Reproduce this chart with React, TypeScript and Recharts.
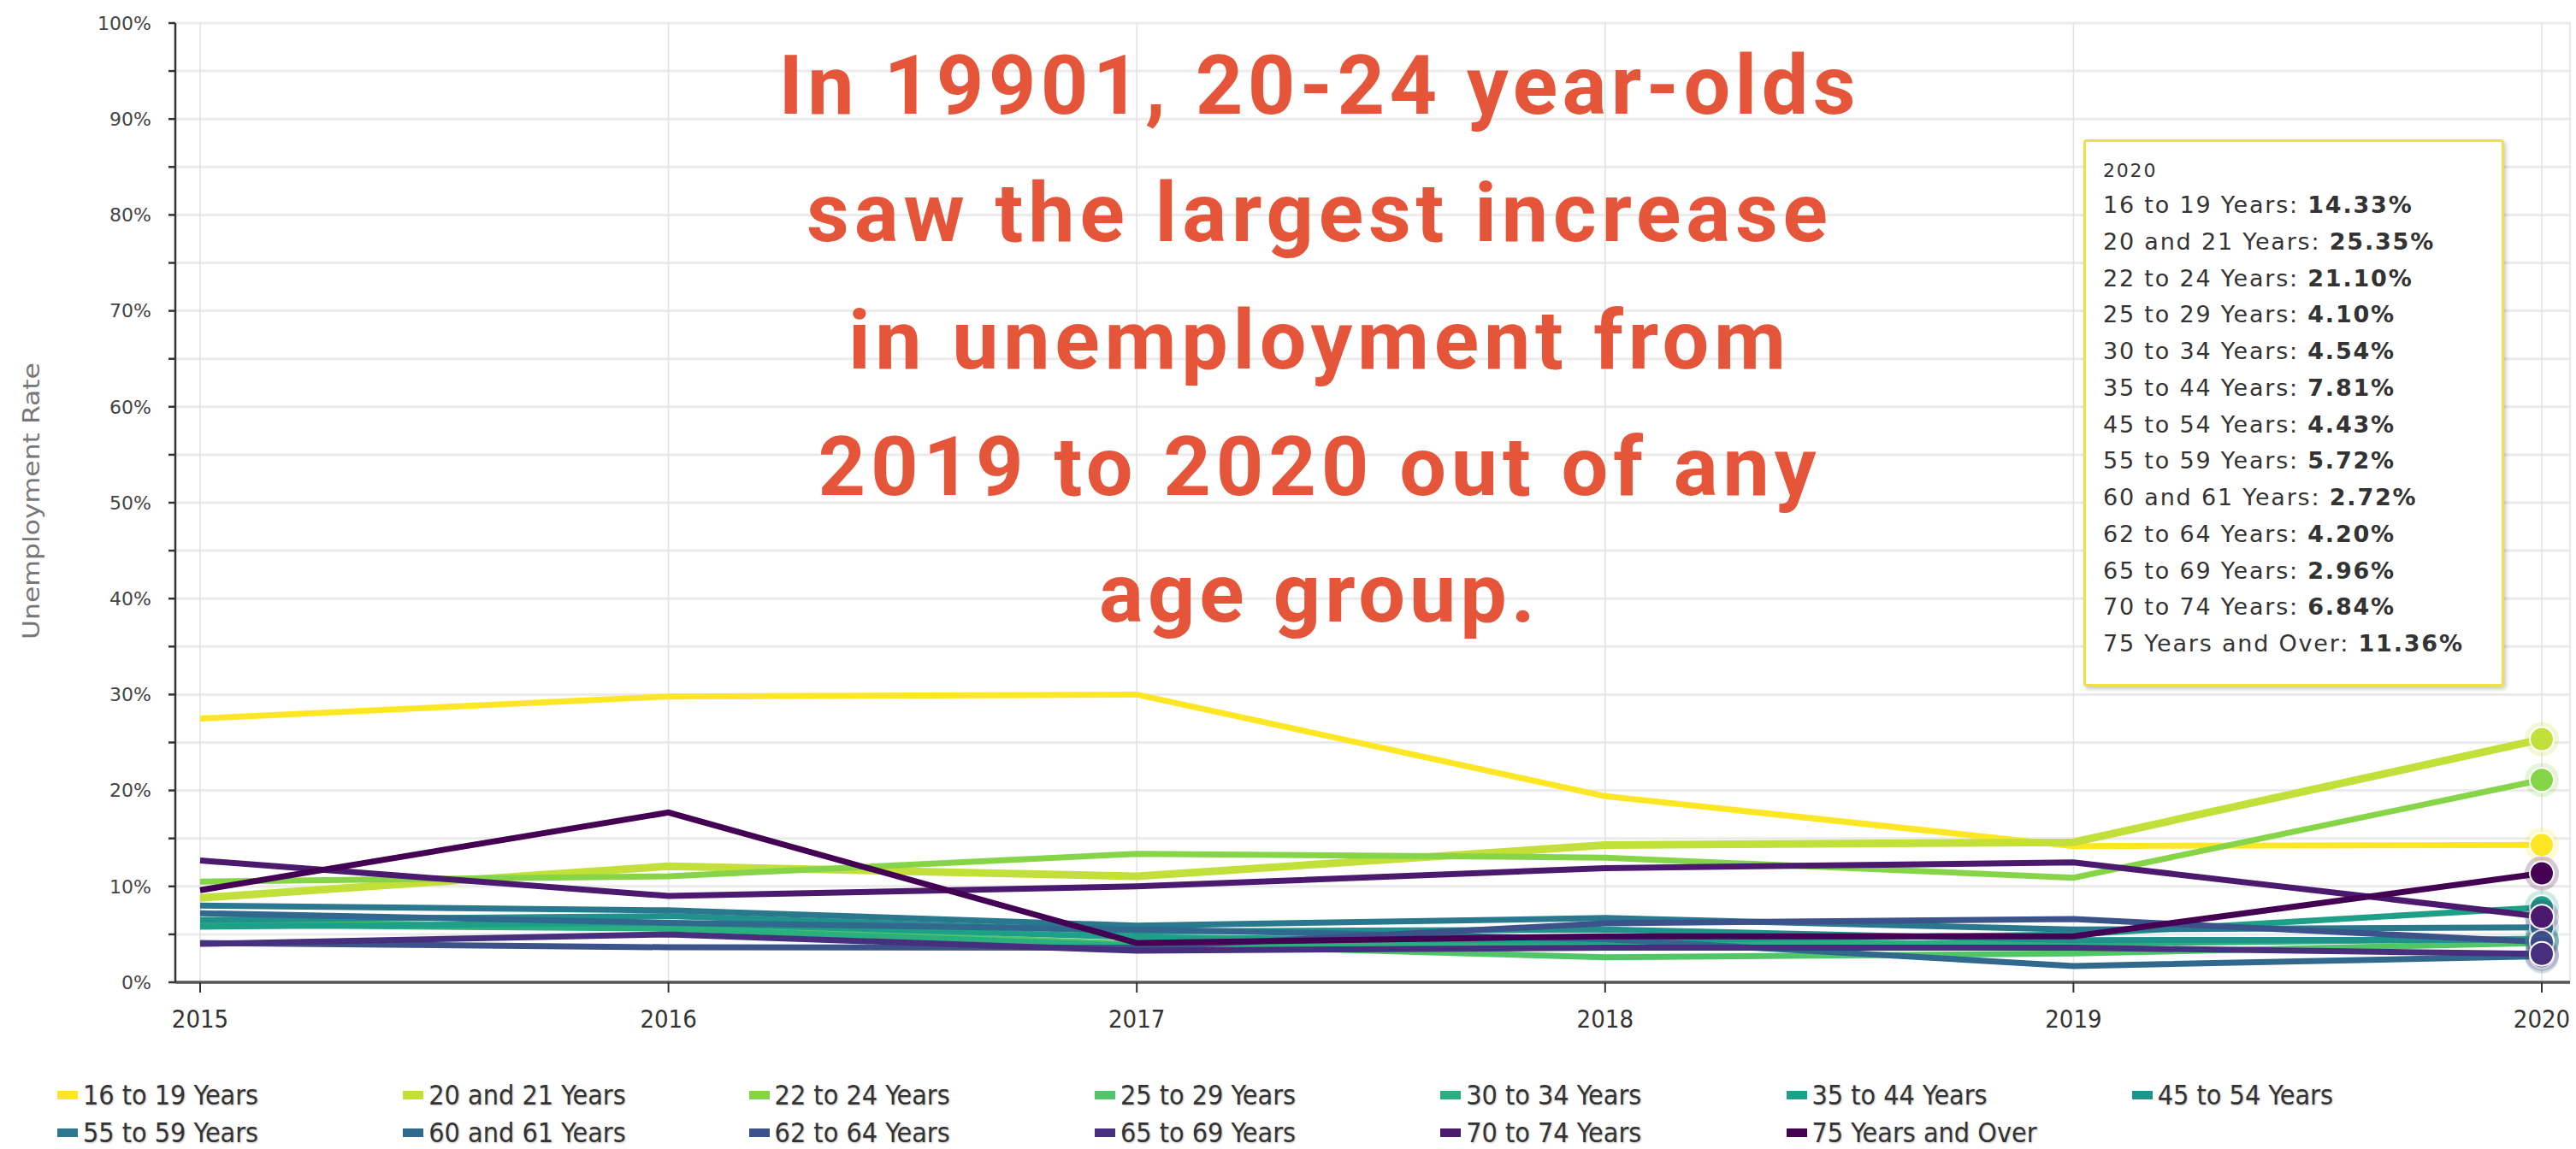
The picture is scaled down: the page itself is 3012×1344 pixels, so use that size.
import React from 'react';
import { LineChart, Line, XAxis, YAxis, CartesianGrid, Tooltip, Legend } from 'recharts';

const YEARS = [2015, 2016, 2017, 2018, 2019, 2020];

const SERIES_NAMES = [
  '16 to 19 Years',
  '20 and 21 Years',
  '22 to 24 Years',
  '25 to 29 Years',
  '30 to 34 Years',
  '35 to 44 Years',
  '45 to 54 Years',
  '55 to 59 Years',
  '60 and 61 Years',
  '62 to 64 Years',
  '65 to 69 Years',
  '70 to 74 Years',
  '75 Years and Over',
];

const SERIES_COLORS = [
  '#fde725', '#c2df3a', '#86d549', '#52c569', '#2ab07f', '#1ea088', '#21918c',
  '#2a788e', '#31688e', '#3b528b', '#472f7d', '#4b1a6e', '#440154',
];

const AGE_16_19 = [27.5, 29.8, 30.0, 19.4, 14.2, 14.33];
const AGE_20_21 = [8.8, 12.1, 11.05, 14.3, 14.6, 25.35];
const AGE_22_24 = [10.5, 11.05, 13.4, 13.0, 10.9, 21.1];
const AGE_25_29 = [6.2, 5.8, 4.0, 2.6, 3.0, 4.1];
const AGE_30_34 = [6.0, 5.6, 3.8, 4.2, 4.0, 4.54];
const AGE_35_44 = [5.8, 6.2, 4.7, 4.3, 5.0, 7.81];
const AGE_45_54 = [6.5, 6.9, 5.3, 5.5, 4.4, 4.43];
const AGE_55_59 = [8.0, 7.5, 5.9, 6.7, 5.5, 5.72];
const AGE_60_61 = [7.2, 6.2, 5.5, 4.5, 1.7, 2.72];
const AGE_62_64 = [4.1, 3.65, 3.6, 6.15, 6.6, 4.2];
const AGE_65_69 = [4.0, 5.0, 3.3, 3.6, 3.6, 2.96];
const AGE_70_74 = [12.7, 9.0, 10.0, 11.9, 12.5, 6.84];
const AGE_75_UP = [9.6, 17.7, 4.1, 4.8, 4.8, 11.36];

const SERIES_VALUES = [
  AGE_16_19, AGE_20_21, AGE_22_24, AGE_25_29, AGE_30_34, AGE_35_44, AGE_45_54,
  AGE_55_59, AGE_60_61, AGE_62_64, AGE_65_69, AGE_70_74, AGE_75_UP,
];

const Y_TICKS = [0, 5, 10, 15, 20, 25, 30, 35, 40, 45, 50, 55, 60, 65, 70, 75, 80, 85, 90, 95, 100];

const HEADLINE = [
  'In 19901, 20-24 year-olds',
  'saw the largest increase',
  'in unemployment from',
  '2019 to 2020 out of any',
  'age group.',
];

const Y_TITLE = 'Unemployment Rate';

const data = YEARS.map((year, i) => {
  const row: Record<string, number> = { year };
  SERIES_VALUES.forEach((vals, k) => {
    row['s' + k] = vals[i];
  });
  return row;
});

const W = 3012;
const H = 1344;

const HEAD_BASELINES = [133, 282, 431, 579, 727];
const HEAD_WIDTHS = [1259, 1194, 1096, 1167, 510];

const makeDot = (color: string) => (props: any) => {
  const { cx, cy } = props;
  if (cx == null || cy == null) return <g />;
  return (
    <g>
      <circle cx={cx} cy={cy} r={20} fill={color} fillOpacity={0.22} />
      <circle cx={cx} cy={cy} r={14} fill={color} stroke="#ffffff" strokeWidth={2} />
    </g>
  );
};

const TooltipBox = (props: any) => {
  const { payload, label } = props;
  if (!payload || !payload.length) return null;
  return (
    <div
      style={{
        width: 492,
        height: 640,
        boxSizing: 'border-box',
        background: 'rgba(255,255,255,0.97)',
        border: '3px solid #efe04a',
        borderRadius: 4,
        boxShadow: '2px 3px 5px rgba(0,0,0,0.22)',
        padding: '15px 6px 10px 20px',
        fontFamily: '"DejaVu Sans", Verdana, sans-serif',
        color: '#333',
        whiteSpace: 'nowrap',
      }}
    >
      <div style={{ fontSize: 22, lineHeight: '38px', letterSpacing: 1.8 }}>{label}</div>
      {payload.map((p: any) => (
        <div key={p.dataKey} style={{ fontSize: 27, lineHeight: '42.75px', letterSpacing: 1.8 }}>
          {p.name}: <b>{Number(p.value).toFixed(2)}%</b>
        </div>
      ))}
    </div>
  );
};

const renderLegend = () => (
  <div
    style={{
      position: 'relative',
      width: W,
      height: 90,
      fontFamily: '"DejaVu Sans Condensed", "DejaVu Sans", sans-serif',
      fontSize: 32,
      color: '#333',
    }}
  >
    {SERIES_NAMES.map((n, k) => {
      const col = k % 7;
      const row = Math.floor(k / 7);
      return (
        <div
          key={n}
          style={{
            position: 'absolute',
            left: 67 + col * 404.3,
            top: row * 44,
            height: 44,
            display: 'flex',
            alignItems: 'center',
            whiteSpace: 'nowrap',
            textShadow: '1px 1px 2px rgba(0,0,0,0.25)',
          }}
        >
          <span
            style={{
              display: 'inline-block',
              width: 24,
              height: 10,
              background: SERIES_COLORS[k],
              marginRight: 6,
            }}
          />
          <span>{n}</span>
        </div>
      );
    })}
  </div>
);

const YTitle = () => (
  <text
    x={38}
    y={586}
    transform="rotate(-90, 38, 586)"
    textAnchor="middle"
    dominantBaseline="middle"
    fontFamily='"DejaVu Sans Condensed", sans-serif'
    fontSize={27}
    fill="#777"
    textLength={324}
    lengthAdjust="spacingAndGlyphs"
  >
    {Y_TITLE}
  </text>
);

export default function App() {
  return (
    <div style={{ position: 'absolute', left: 0, top: 0, width: W, height: H, background: '#fff' }}>
      <LineChart width={W} height={H} data={data} margin={{ top: 27, right: 7, left: 0, bottom: 135 }}>
        <CartesianGrid vertical={false} stroke="#ebebeb" strokeWidth={3} />
        <CartesianGrid horizontal={false} stroke="#e2e2e2" strokeWidth={1.5} />
        <XAxis
          dataKey="year"
          type="number"
          domain={[2015, 2020]}
          ticks={YEARS}
          interval={0}
          padding={{ left: 29, right: 33 }}
          height={60}
          tickSize={12}
          tickMargin={20}
          axisLine={{ stroke: '#555', strokeWidth: 3.5 }}
          tickLine={{ stroke: '#333', strokeWidth: 2 }}
          tick={{ fontSize: 29, fill: '#333', fontFamily: '"DejaVu Sans Condensed", sans-serif' }}
        />
        <YAxis
          domain={[0, 100]}
          ticks={Y_TICKS}
          interval={0}
          width={205}
          tickSize={8}
          tickMargin={20}
          tickFormatter={(v: number) => (v % 10 === 0 ? v + '%' : '')}
          axisLine={{ stroke: '#333', strokeWidth: 2.5 }}
          tickLine={{ stroke: '#333', strokeWidth: 2.5 }}
          tick={{ fontSize: 22, fill: '#444', fontFamily: '"DejaVu Sans", sans-serif' }}
          label={<YTitle />}
        />
        <Legend
          layout="horizontal"
          verticalAlign="middle"
          align="center"
          content={renderLegend}
          wrapperStyle={{ position: 'absolute', left: 0, top: 1259, width: W, height: 90 }}
        />
        {SERIES_NAMES.map((n, k) => (
          <Line
            key={n}
            type="linear"
            dataKey={'s' + k}
            name={n}
            stroke={SERIES_COLORS[k]}
            strokeWidth={k === 1 ? 9 : 7}
            dot={false}
            activeDot={makeDot(SERIES_COLORS[k])}
            isAnimationActive={false}
          />
        ))}
        <Tooltip
          active
          defaultIndex={5}
          position={{ x: 2436, y: 163 }}
          cursor={false}
          isAnimationActive={false}
          content={TooltipBox}
          wrapperStyle={{ outline: 'none' }}
        />
      </LineChart>
      <svg
        width={W}
        height={H}
        style={{ position: 'absolute', left: 0, top: 0, pointerEvents: 'none' }}
      >
        {HEADLINE.map((t, i) => (
          <text
            key={t}
            x={1540}
            y={HEAD_BASELINES[i]}
            textAnchor="middle"
            fontFamily="Roboto, sans-serif"
            fontWeight={700}
            fontSize={97}
            fill="#e5553a"
            textLength={HEAD_WIDTHS[i]}
            lengthAdjust="spacing"
          >
            {t}
          </text>
        ))}
      </svg>
    </div>
  );
}
